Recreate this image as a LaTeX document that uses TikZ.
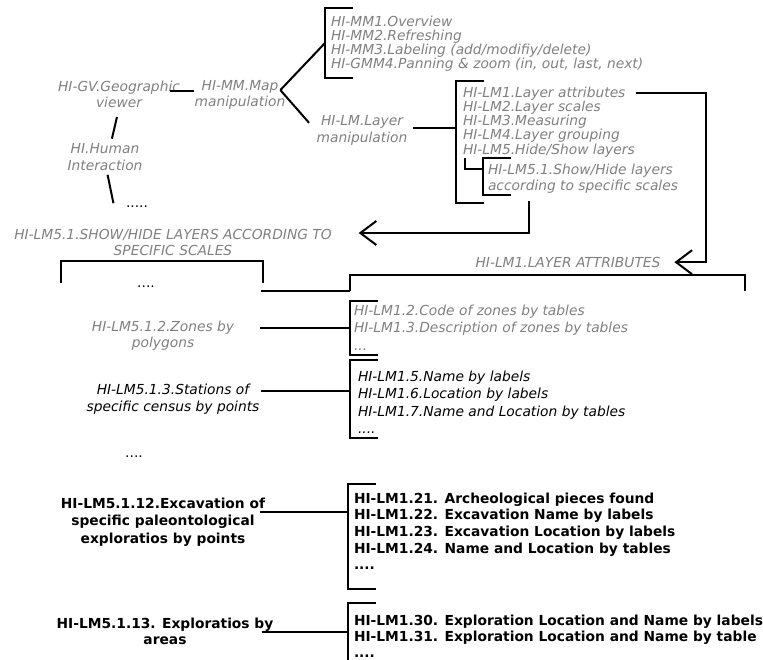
\documentclass[tikz,border=0pt]{standalone}
\usepackage{fontspec}
\setmainfont{DejaVu Sans}
\usetikzlibrary{arrows.meta, positioning, calc}
\definecolor{txtgray}{RGB}{128,128,128}
\newcommand{\diagfont}[1]{\fontsize{13.8}{#1}\selectfont}
% bracket opening to the right / opening downwards
\newcommand{\bracket}[1]{\draw (#1.north east) -- (#1.north west) -- (#1.south west) -- (#1.south east);}
\newcommand{\topbracket}[1]{\draw (#1.south west) -- (#1.north west) -- (#1.north east) -- (#1.south east);}
\tikzset{
  reqtree/.style={
	x=1pt, y=-1pt, % pixel like units, y going down
	line width=2pt, % thick black lines
	>={Straight Barb[length=16pt,width=24pt]}, % big open arrow heads
  },
  greytxt/.style={inner sep=0pt, text=txtgray, font=\diagfont{#1}\itshape},
  greytxt/.default=16,
  blacktxt/.style={inner sep=0pt, text=black, font=\diagfont{#1}\itshape},
  blacktxt/.default=17,
  boldtxt/.style={inner sep=0pt, text=black, font=\diagfont{#1}\bfseries},
  boldtxt/.default=17,
  brk/.style={inner sep=0pt, minimum width=26pt, anchor=north west}, % bracket holder
}

\begin{document}
\begin{tikzpicture}[reqtree]
\useasboundingbox (0,0) rectangle (763,659);

% tree at the top
\node[greytxt, align=center, anchor=north] (gv) at (119,79.6) {HI-GV.Geographic\\viewer};
\node[greytxt, align=center, anchor=north] (mm) at (240,79.6) {HI-MM.Map\\manipulation};
\node[greytxt=17, align=center, anchor=north] (hi) at (105,142.6) {HI.Human\\Interaction};
\node[inner sep=0pt, font=\diagfont{16}, anchor=base] (more1) at (137,207) {.....};
\node[greytxt=16.5, align=center, anchor=north] (lm) at (362,114.6) {HI-LM.Layer\\manipulation};

\node[brk, minimum height=68pt] (mmb) at (325,8) {};
\node[greytxt=14.3, align=left, anchor=north west] (mml) at (330,14.6) {HI-MM1.Overview\\HI-MM2.Refreshing\\HI-MM3.Labeling (add/modifiy/delete)\\HI-GMM4.Panning \& zoom (in, out, last, next)};

\node[brk, minimum height=120pt] (lmb) at (456,81) {};
\node[greytxt=14.25, align=left, anchor=north west] (lml) at (462,85.6) {HI-LM1.Layer attributes\\HI-LM2.Layer scales\\HI-LM3.Measuring\\HI-LM4.Layer grouping\\HI-LM5.Hide/Show layers};
\node[brk, minimum height=35pt] (lm51b) at (483,158) {};
\node[greytxt, align=left, anchor=north west] (lm51) at (487,162.6) {HI-LM5.1.Show/Hide layers\\according to specific scales};

% the two groups
\node[greytxt, anchor=north] (latt) at (568,256) {HI-LM1.LAYER ATTRIBUTES};
\node[greytxt, align=center, anchor=north] (shl) at (173,228) {HI-LM5.1.SHOW/HIDE LAYERS ACCORDING TO\\SPECIFIC SCALES};
\node[brk, minimum width=200pt, minimum height=20pt] (lbr) at (61,261) {};
\node[inner sep=0pt, font=\diagfont{16}, anchor=base] (more2) at (146,287) {....};
\node[brk, minimum width=393pt, minimum height=14pt] (rbr) at (350,275) {};

% rows
\node[greytxt, align=center, anchor=north] (zones) at (163,319.6) {HI-LM5.1.2.Zones by\\polygons};
\node[brk, minimum height=52pt] (zb) at (350,301) {};
\node[greytxt=17.5, align=left, anchor=north west] (zl) at (353,303.6) {HI-LM1.2.Code of zones by tables\\HI-LM1.3.Description of zones by tables\\...};

\node[blacktxt, align=center, anchor=north] (stations) at (173,382.6) {HI-LM5.1.3.Stations of\\specific census by points};
\node[brk, minimum height=76pt] (sb) at (350,360) {};
\node[blacktxt=17.5, align=left, anchor=north west] (sl) at (357,369.6) {HI-LM1.5.Name by labels\\HI-LM1.6.Location by labels\\HI-LM1.7.Name and Location by tables\\....};

\node[inner sep=0pt, font=\diagfont{16}, anchor=base] (more3) at (134,457) {....};

\node[boldtxt=17.5, align=center, anchor=north] (exc) at (163,496.6) {HI-LM5.1.12.Excavation of\\specific paleontological\\exploratios by points};
\node[brk, minimum height=103pt] (eb) at (348,484) {};
\node[boldtxt=16.7, align=left, anchor=north west] (el) at (353,491.6) {HI-LM1.21. Archeological pieces found\\HI-LM1.22. Excavation Name by labels\\HI-LM1.23. Excavation Location by labels\\HI-LM1.24. Name and Location by tables\\....};

\node[boldtxt=16, align=center, anchor=north] (areas) at (165,616.6) {HI-LM5.1.13. Exploratios by\\areas};
\node[brk, minimum height=60pt] (ab) at (348,603) {};
\node[boldtxt=16, align=left, anchor=north west] (al) at (353,613.6) {HI-LM1.30. Exploration Location and Name by labels\\HI-LM1.31. Exploration Location and Name by table\\....};

% brackets
\bracket{mmb}
\bracket{lmb}
\bracket{lm51b}
\bracket{zb}
\bracket{sb}
\bracket{eb}
\draw (ab.north east) -- (ab.north west) -- (ab.south west);
\topbracket{lbr}
\topbracket{rbr}

% connectors
\draw ([shift={(-11pt,3pt)}]gv.east) -- ([yshift=3pt]gv.east -| mm.west);
\draw[shorten <=9pt, shorten >=4pt] (gv.south) -- ([xshift=6pt]hi.north);
\draw[shorten <=3pt, shorten >=3pt] ([xshift=2pt]hi.south) -- ([xshift=-11pt]more1.west);
\draw ([shift={(-6pt,5pt)}]mm.east) -- (mmb.west);
\draw[shorten >=10pt] ([shift={(-6pt,5pt)}]mm.east) -- (lm.west);
\draw[shorten <=5pt] ([yshift=14pt]lmb.west -| lm.east) -- ([yshift=14pt]lmb.west);
\draw ([xshift=3pt]lml.south west) |- ([yshift=8pt]lm51b.west);
\draw[->, shorten >=13pt] ([yshift=-7pt]lml.north east) -- ++(70,0) |- (latt.east);
\draw[->, shorten >=26pt] ([shift={(42pt,-7pt)}]lm51.south west) |- ([yshift=-5pt]shl.north east);
\draw ([shift={(-2pt,-8pt)}]lbr.south east) -- (rbr.south west);
\draw[shorten <=25pt] (zb.west -| zones.east) -- (zb.west);
\draw[shorten <=1pt] ([yshift=8pt]sb.west -| stations.east) -- ([yshift=8pt]sb.west);
\draw[shorten <=-6pt] ([yshift=25pt]eb.west -| exc.east) -- ([yshift=25pt]eb.west);
\draw[shorten <=-12pt] ([yshift=2pt]ab.west -| areas.east) -- ([yshift=2pt]ab.west);
\end{tikzpicture}
\end{document}
